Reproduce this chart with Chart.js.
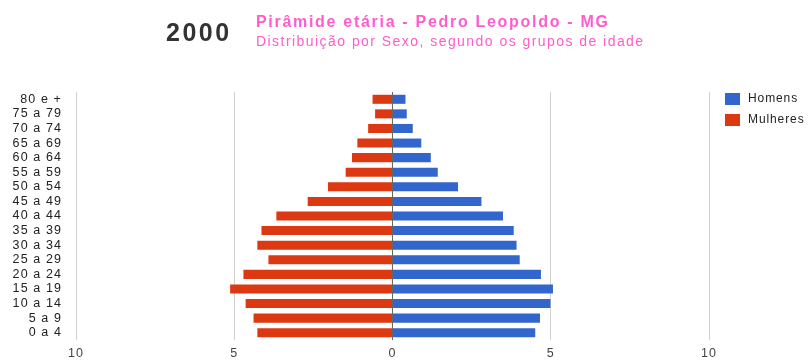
<!DOCTYPE html>
<html>
<head>
<meta charset="utf-8">
<script src="https://cdn.jsdelivr.net/npm/chart.js@4"></script>
<style>
  body { margin: 0; background: #fff; }
  #wrap { position: relative; width: 810px; height: 363px; }
</style>
</head>
<body>
<div id="wrap"><canvas id="piramide" width="810" height="363"></canvas></div>
<script>
// faixas etárias, de cima para baixo
let faixas = ['80 e +', '75 a 79', '70 a 74', '65 a 69', '60 a 64', '55 a 59', '50 a 54', '45 a 49',
    '40 a 44', '35 a 39', '30 a 34', '25 a 29', '20 a 24', '15 a 19', '10 a 14', '5 a 9', '0 a 4'];
// percentual da população em cada faixa
let homens = [0.41, 0.45, 0.64, 0.91, 1.21, 1.43, 2.07, 2.81, 3.49, 3.83, 3.92, 4.02, 4.69, 5.07, 4.99, 4.66, 4.51];
let mulheres = [0.63, 0.55, 0.77, 1.11, 1.28, 1.48, 2.04, 2.68, 3.67, 4.14, 4.27, 3.92, 4.71, 5.13, 4.64, 4.39, 4.27];
let eixoX = [-10, -5, 0, 5, 10];

let ano = '2000';
let titulo = 'Pirâmide etária - Pedro Leopoldo - MG';
let subtitulo = 'Distribuição por Sexo, segundo os grupos de idade';

const fonte = '"Liberation Sans", Arial, Helvetica, sans-serif';
const rosa = '#ff5ccc';

// texto dos eixos um pouco mais espaçado
const espacamento = {
    id: 'espacamento',
    beforeDraw(chart) { chart.ctx.letterSpacing = '1.1px'; },
    afterDatasetsDraw(chart) { chart.ctx.letterSpacing = '0px'; }
};

// cabeçalho e legenda desenhados direto no canvas
const extras = {
    id: 'extras',
    afterDraw(chart) {
        let ctx = chart.ctx;
        ctx.save();
        ctx.textBaseline = 'alphabetic';
        ctx.textAlign = 'left';
        ctx.fillStyle = '#333';
        ctx.font = 'bold 25px ' + fonte;
        ctx.letterSpacing = '2.5px';
        ctx.fillText(ano, 166, 41);
        ctx.fillStyle = rosa;
        ctx.font = 'bold 16px ' + fonte;
        ctx.letterSpacing = '1.7px';
        ctx.fillText(titulo, 256, 27);
        ctx.font = '14px ' + fonte;
        ctx.letterSpacing = '1.45px';
        ctx.fillText(subtitulo, 256, 46);

        let itens = chart.data.datasets;
        ctx.letterSpacing = '0.9px';
        itens.forEach((ds, i) => {
            let y = 93 + i * 21;
            ctx.fillStyle = ds.backgroundColor;
            ctx.fillRect(725, y, 15, 12);
            ctx.fillStyle = '#222';
            ctx.font = '12px ' + fonte;
            ctx.textBaseline = 'middle';
            ctx.fillText(ds.label, 748, y + 6);
        });
        ctx.restore();
    }
};

let ctx = document.getElementById('piramide').getContext('2d');
new Chart(ctx, {
    type: 'bar',
    data: {
        labels: faixas,
        datasets: [{
            label: 'Homens',
            data: homens,
            backgroundColor: '#3366cc'
        }, {
            label: 'Mulheres',
            data: mulheres.map(v => -v),
            backgroundColor: '#dc3912'
        }]
    },
    options: {
        indexAxis: 'y',
        responsive: false,
        animation: false,
        layout: { padding: { top: 92, right: 101, left: 0, bottom: 0 } },
        datasets: { bar: { barPercentage: 0.62, categoryPercentage: 1 } },
        plugins: {
            legend: { display: false },
            tooltip: { enabled: false }
        },
        scales: {
            x: {
                stacked: true,
                min: eixoX[0],
                max: eixoX[eixoX.length - 1],
                afterBuildTicks: axis => { axis.ticks = eixoX.map(v => ({ value: v })); },
                afterFit: axis => { axis.height = 23; },
                border: { display: false },
                grid: {
                    drawTicks: false,
                    color: c => c.tick && c.tick.value === 0 ? '#666' : '#d0d0d0'
                },
                ticks: {
                    padding: 6,
                    color: '#444',
                    font: { family: fonte, size: 12.5 },
                    callback: v => Math.abs(v)
                }
            },
            y: {
                stacked: true,
                afterFit: axis => { axis.width = 76; },
                border: { display: false },
                grid: { display: false, drawTicks: false },
                ticks: {
                    autoSkip: false,
                    padding: 14,
                    color: '#222',
                    font: { family: fonte, size: 12.5 }
                }
            }
        }
    },
    plugins: [espacamento, extras]
});
</script>
</body>
</html>
